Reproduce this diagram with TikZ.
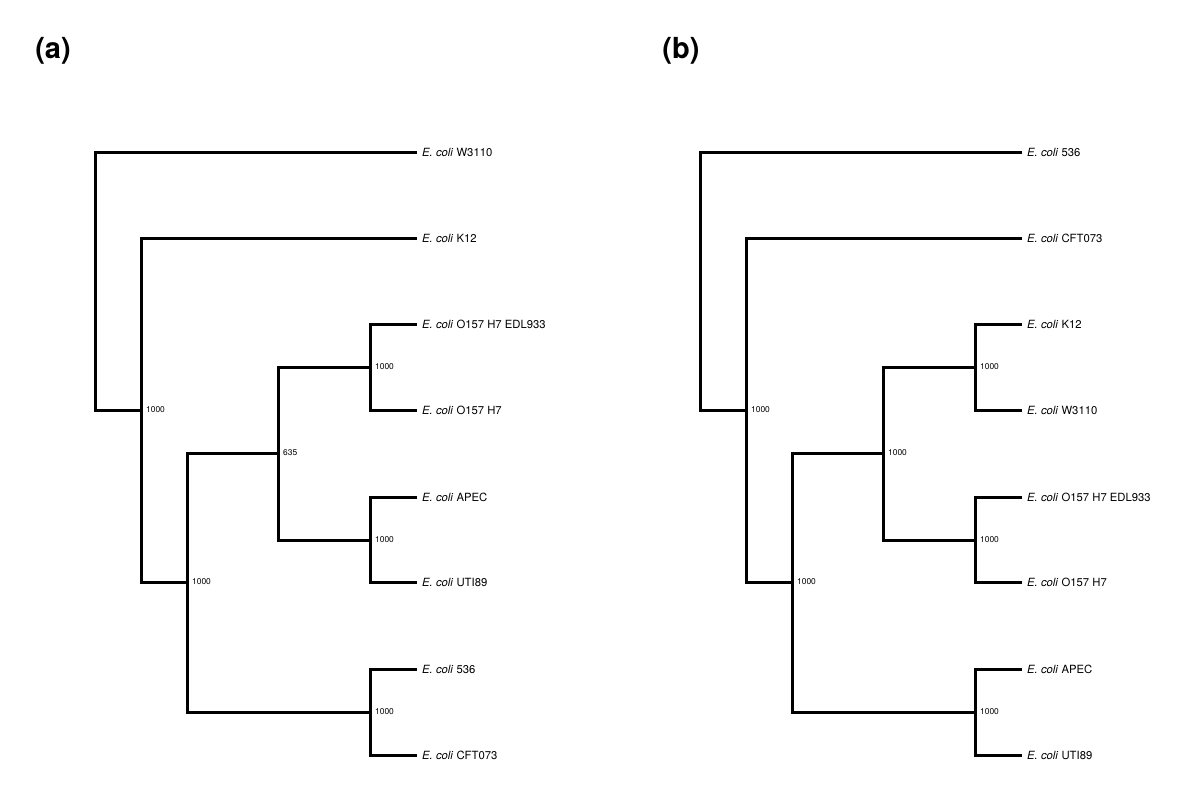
\documentclass[tikz,border=0pt]{standalone}
\usepackage{fontspec}
\setmainfont{TeX Gyre Heros}
\tikzset{
  branch/.style={line width=3pt, line join=miter, line cap=rect},
  leaflab/.style={anchor=west, inner sep=0pt, xshift=7pt, text depth=0pt, font=\fontsize{11.3}{13}\selectfont},
  boot/.style={anchor=west, inner sep=0pt, xshift=5pt, text depth=0pt, font=\fontsize{8.4}{10}\selectfont},
  panel/.style={inner sep=0pt, font=\fontsize{29}{33}\selectfont\bfseries}
}
\newcommand{\ecoli}[1]{\textit{E. coli}~#1}
\begin{document}
\begin{tikzpicture}[x=1pt,y=-1pt]
\useasboundingbox (0,0) rectangle (1200,787);
% ---------- panel (a) ----------
\node[panel] (pa) at (53,50.5) {(a)};
\coordinate (ar) at (95,281);
\coordinate (a1) at (141,410);
\coordinate (a2) at (187,582);
\coordinate (a3) at (278,453);
\coordinate (a4) at (370,367);
\coordinate (a5) at (370,540);
\coordinate (a6) at (370,712);
\coordinate (at1) at (415,152);
\coordinate (at2) at (415,238);
\coordinate (at3) at (415,324);
\coordinate (at4) at (415,410);
\coordinate (at5) at (415,497);
\coordinate (at6) at (415,582);
\coordinate (at7) at (415,669);
\coordinate (at8) at (415,755);
\draw[branch] (at1) -| (ar) |- (a1);
\draw[branch] (at2) -| (a1) |- (a2);
\draw[branch] (a3) -| (a2) |- (a6);
\draw[branch] (a4) -| (a3) |- (a5);
\draw[branch] (at3) -| (a4) |- (at4);
\draw[branch] (at5) -| (a5) |- (at6);
\draw[branch] (at7) -| (a6) |- (at8);
\node[leaflab] (al1) at (at1) {\ecoli{W3110}};
\node[leaflab] (al2) at (at2) {\ecoli{K12}};
\node[leaflab] (al3) at (at3) {\ecoli{O157 H7 EDL933}};
\node[leaflab] (al4) at (at4) {\ecoli{O157 H7}};
\node[leaflab] (al5) at (at5) {\ecoli{APEC}};
\node[leaflab] (al6) at (at6) {\ecoli{UTI89}};
\node[leaflab] (al7) at (at7) {\ecoli{536}};
\node[leaflab] (al8) at (at8) {\ecoli{CFT073}};
\node[boot] (ab1) at (a1) {1000};
\node[boot] (ab2) at (a2) {1000};
\node[boot] (ab3) at (a3) {635};
\node[boot] (ab4) at (a4) {1000};
\node[boot] (ab5) at (a5) {1000};
\node[boot] (ab6) at (a6) {1000};
% ---------- panel (b) ----------
\begin{scope}[xshift=605pt]
\node[panel] (pb) at (76,50.5) {(b)};
\coordinate (br) at (95,281);
\coordinate (b1) at (141,410);
\coordinate (b2) at (187,582);
\coordinate (b3) at (278,453);
\coordinate (b4) at (370,367);
\coordinate (b5) at (370,540);
\coordinate (b6) at (370,712);
\coordinate (bt1) at (415,152);
\coordinate (bt2) at (415,238);
\coordinate (bt3) at (415,324);
\coordinate (bt4) at (415,410);
\coordinate (bt5) at (415,497);
\coordinate (bt6) at (415,582);
\coordinate (bt7) at (415,669);
\coordinate (bt8) at (415,755);
\draw[branch] (bt1) -| (br) |- (b1);
\draw[branch] (bt2) -| (b1) |- (b2);
\draw[branch] (b3) -| (b2) |- (b6);
\draw[branch] (b4) -| (b3) |- (b5);
\draw[branch] (bt3) -| (b4) |- (bt4);
\draw[branch] (bt5) -| (b5) |- (bt6);
\draw[branch] (bt7) -| (b6) |- (bt8);
\node[leaflab] (bl1) at (bt1) {\ecoli{536}};
\node[leaflab] (bl2) at (bt2) {\ecoli{CFT073}};
\node[leaflab] (bl3) at (bt3) {\ecoli{K12}};
\node[leaflab] (bl4) at (bt4) {\ecoli{W3110}};
\node[leaflab] (bl5) at (bt5) {\ecoli{O157 H7 EDL933}};
\node[leaflab] (bl6) at (bt6) {\ecoli{O157 H7}};
\node[leaflab] (bl7) at (bt7) {\ecoli{APEC}};
\node[leaflab] (bl8) at (bt8) {\ecoli{UTI89}};
\node[boot] (bb1) at (b1) {1000};
\node[boot] (bb2) at (b2) {1000};
\node[boot] (bb3) at (b3) {1000};
\node[boot] (bb4) at (b4) {1000};
\node[boot] (bb5) at (b5) {1000};
\node[boot] (bb6) at (b6) {1000};
\end{scope}
\end{tikzpicture}
\end{document}
